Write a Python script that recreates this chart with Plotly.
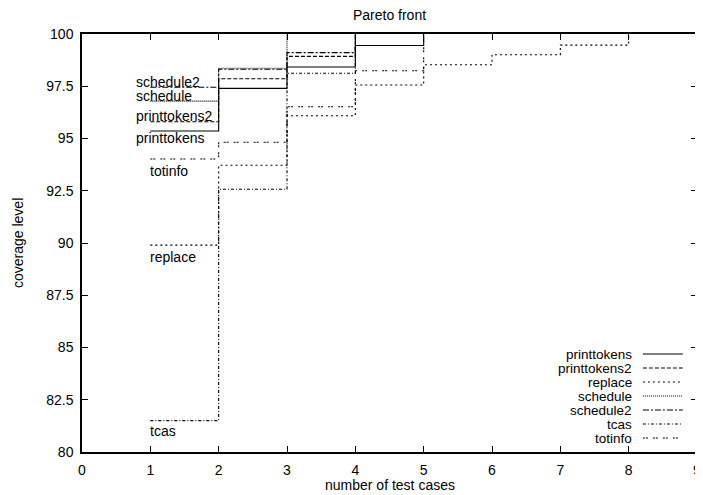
import plotly.graph_objects as go

# ---- data ----
series_names = ["printtokens", "printtokens2", "replace", "schedule",
                "schedule2", "tcas", "totinfo"]
x_printtokens = [1, 2, 3, 4, 5]
y_printtokens = [95.36, 97.40, 98.42, 99.45, 100]
x_printtokens2 = [1, 2, 3, 4]
y_printtokens2 = [95.80, 97.86, 98.93, 100]
x_replace = [1, 2, 3, 4, 5, 6, 7, 8]
y_replace = [89.90, 93.72, 96.09, 97.56, 98.53, 99.01, 99.47, 100]
x_schedule = [1, 2, 3]
y_schedule = [96.79, 98.36, 100]
x_schedule2 = [1, 2, 3, 4]
y_schedule2 = [97.45, 98.31, 99.11, 100]
x_tcas = [1, 2, 3, 4]
y_tcas = [81.50, 92.57, 98.12, 100]
x_totinfo = [1, 2, 3, 4, 5]
y_totinfo = [94.02, 94.82, 96.52, 98.24, 100]

xs = [x_printtokens, x_printtokens2, x_replace, x_schedule, x_schedule2, x_tcas, x_totinfo]
ys = [y_printtokens, y_printtokens2, y_replace, y_schedule, y_schedule2, y_tcas, y_totinfo]

x_ticks = [0, 1, 2, 3, 4, 5, 6, 7, 8, 9]
y_ticks = [80, 82.5, 85, 87.5, 90, 92.5, 95, 97.5, 100]

# ---- styles / positions ----
dashes = {
    "printtokens": "solid",
    "printtokens2": "4px,2px",
    "replace": "2px,3px",
    "schedule": "1px,1px",
    "schedule2": "6px,2px,2px,2px",
    "tcas": "3px,2px,1px,2px",
    "totinfo": "2px,1px,2px,5px",
}
label_pos = {
    "schedule2": (0.76, 97.72),
    "schedule": (0.76, 97.03),
    "printtokens2": (0.76, 96.08),
    "printtokens": (0.76, 95.04),
    "totinfo": (0.97, 93.45),
    "replace": (0.97, 89.35),
    "tcas": (0.97, 81.00),
}
FONT = "Liberation Sans, Arial, sans-serif"
FS = 14

fig = go.Figure()
for name, x, y in zip(series_names, xs, ys):
    fig.add_trace(go.Scatter(
        x=x, y=y, mode="lines", name=name, line_shape="hv",
        line=dict(color="black", width=1.1, dash=dashes[name]),
        showlegend=False, cliponaxis=True,
    ))

annotations = []
for name in series_names:
    lx, ly = label_pos[name]
    annotations.append(dict(x=lx, y=ly, xref="x", yref="y", text=name,
                            showarrow=False, xanchor="left", yanchor="middle",
                            font=dict(family=FONT, size=FS, color="black")))

# custom gnuplot-style legend (text on left, line sample on right)
shapes = []
row0 = 0.2344
step = 0.0335
for i, name in enumerate(series_names):
    yy = row0 - i * step
    annotations.append(dict(x=0.898, y=yy, xref="paper", yref="paper", text=name,
                            showarrow=False, xanchor="right", yanchor="middle",
                            font=dict(family=FONT, size=13.5, color="black")))
    shapes.append(dict(type="line", xref="paper", yref="paper",
                       x0=0.912, x1=0.977, y0=yy, y1=yy,
                       line=dict(color="black", width=1.1, dash=dashes[name])))

# axis titles as paper annotations
annotations.append(dict(x=0.5, y=-0.079, xref="paper", yref="paper",
                        text="number of test cases", showarrow=False,
                        xanchor="center", yanchor="middle",
                        font=dict(family=FONT, size=FS, color="black")))
annotations.append(dict(x=-0.104, y=0.5, xref="paper", yref="paper",
                        text="coverage level", showarrow=False, textangle=-90,
                        xanchor="center", yanchor="middle",
                        font=dict(family=FONT, size=FS, color="black")))

axis_common = dict(showgrid=False, zeroline=False, showline=True, linecolor="black",
                   linewidth=1.5, mirror="ticks", ticks="inside", ticklen=6,
                   tickwidth=1, tickcolor="black", automargin=False,
                   tickfont=dict(family=FONT, size=FS, color="black"))

fig.update_layout(
    width=695, height=487,
    margin=dict(l=74, r=6, t=26, b=43, autoexpand=False),
    paper_bgcolor="white", plot_bgcolor="white",
    title=dict(text="Pareto front", x=0.5, xref="paper", xanchor="center",
               y=0.996, yref="container", yanchor="top", pad=dict(t=0, b=0),
               font=dict(family=FONT, size=FS, color="black")),
    xaxis=dict(range=[0, 9], tickmode="array", tickvals=x_ticks,
               ticktext=[str(t) for t in x_ticks], ticklabelstandoff=4,
               **axis_common),
    yaxis=dict(range=[80, 100], tickmode="array", tickvals=y_ticks,
               ticktext=[("%g" % t) for t in y_ticks], ticklabelstandoff=4,
               **axis_common),
    annotations=annotations,
    shapes=shapes,
    showlegend=False,
)

fig.write_html("out.html")
